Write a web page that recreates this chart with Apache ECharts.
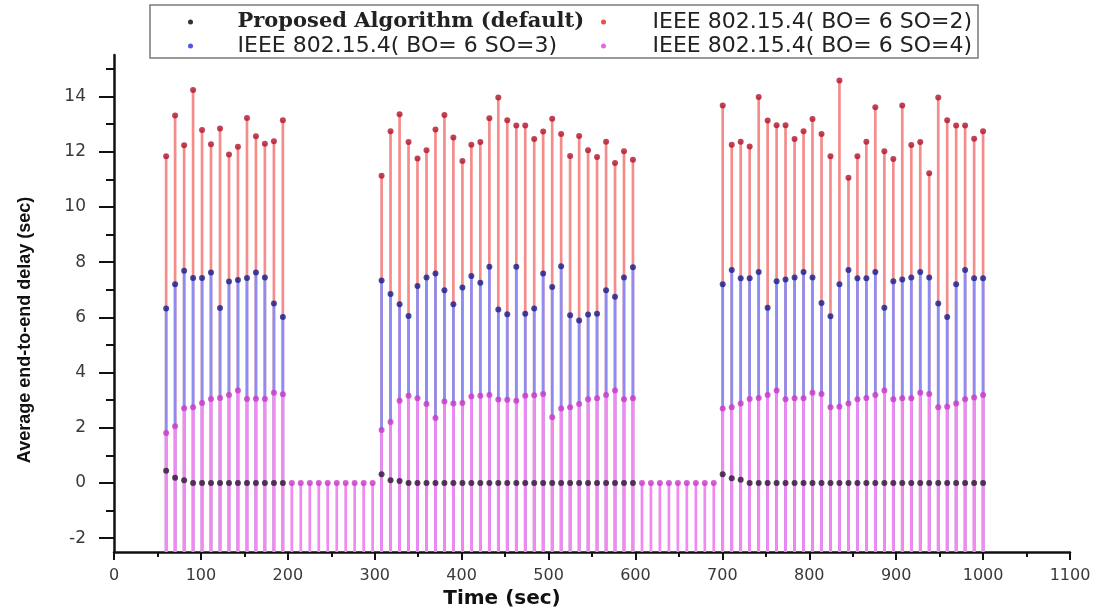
<!DOCTYPE html>
<html>
<head>
<meta charset="utf-8">
<script src="https://cdn.jsdelivr.net/npm/echarts@6/dist/echarts.min.js"></script>
<style>
html,body{margin:0;padding:0;background:#fff;}
#chart{width:1099px;height:615px;}
</style>
</head>
<body>
<div id="chart"></div>
<script>
// Time (sec) of each sample
const timeValues = [
  60.0, 70.3, 80.7, 91.0, 101.3, 111.6, 122.0, 132.3, 142.6, 153.0, 163.3, 173.6, 184.0, 194.3,
  204.6, 214.9, 225.3, 235.6, 245.9, 256.3, 266.6, 276.9, 287.3, 297.6,
  307.9, 318.2, 328.6, 338.9, 349.2, 359.6, 369.9, 380.2, 390.5, 400.9, 411.2, 421.5, 431.9, 442.2,
  452.5, 462.9, 473.2, 483.5, 493.8, 504.2, 514.5, 524.8, 535.2, 545.5, 555.8, 566.2, 576.5, 586.8, 597.1,
  607.5, 617.8, 628.1, 638.5, 648.8, 659.1, 669.5, 679.8, 690.1,
  700.4, 710.8, 721.1, 731.4, 741.8, 752.1, 762.4, 772.7, 783.1, 793.4, 803.7, 814.1, 824.4, 834.7,
  845.1, 855.4, 865.7, 876.0, 886.4, 896.7, 907.0, 917.4, 927.7, 938.0, 948.4, 958.7, 969.0, 979.3, 989.7, 1000.0
];

// Proposed Algorithm (default)
const proposedValues = [
  0.44, 0.19, 0.10, 0, 0, 0, 0, 0, 0, 0, 0, 0, 0, 0,
  null, null, null, null, null, null, null, null, null, null,
  0.32, 0.10, 0.07, 0, 0, 0, 0, 0, 0, 0, 0, 0, 0, 0, 0, 0, 0, 0, 0, 0, 0, 0, 0, 0, 0, 0, 0, 0, 0,
  null, null, null, null, null, null, null, null, null,
  0.32, 0.17, 0.12, 0, 0, 0, 0, 0, 0, 0, 0, 0, 0, 0, 0, 0, 0, 0, 0, 0, 0, 0, 0, 0, 0, 0, 0, 0, 0, 0, 0, 0
];

// IEEE 802.15.4( BO= 6 SO=2)
const so2Values = [
  11.83, 13.31, 12.23, 14.23, 12.78, 12.27, 12.84, 11.90, 12.18, 13.22, 12.56, 12.29, 12.38, 13.14,
  null, null, null, null, null, null, null, null, null, null,
  11.13, 12.74, 13.35, 12.35, 11.75, 12.05, 12.80, 13.33, 12.51, 11.66, 12.25, 12.35, 13.21, 13.96, 13.14,
  12.95, 12.95, 12.46, 12.73, 13.19, 12.64, 11.84, 12.57, 12.05, 11.81, 12.36, 11.59, 12.01, 11.71,
  null, null, null, null, null, null, null, null, null,
  13.67, 12.25, 12.36, 12.19, 13.98, 13.13, 12.96, 12.96, 12.46, 12.74, 13.18, 12.64, 11.83, 14.58, 11.05,
  11.83, 12.36, 13.61, 12.01, 11.73, 13.67, 12.24, 12.35, 11.22, 13.96, 13.14, 12.95, 12.95, 12.47, 12.74
];

// IEEE 802.15.4( BO= 6 SO=3)
const so3Values = [
  6.32, 7.20, 7.69, 7.42, 7.42, 7.62, 6.34, 7.30, 7.35, 7.42, 7.62, 7.44, 6.50, 6.01,
  null, null, null, null, null, null, null, null, null, null,
  7.33, 6.84, 6.47, 6.05, 7.13, 7.44, 7.59, 6.98, 6.47, 7.08, 7.50, 7.25, 7.83, 6.28, 6.11,
  7.83, 6.13, 6.32, 7.59, 7.10, 7.85, 6.07, 5.88, 6.10, 6.13, 6.98, 6.74, 7.44, 7.81,
  null, null, null, null, null, null, null, null, null,
  7.20, 7.71, 7.41, 7.41, 7.64, 6.35, 7.31, 7.37, 7.44, 7.64, 7.44, 6.52, 6.04, 7.20, 7.71,
  7.41, 7.41, 7.64, 6.35, 7.31, 7.37, 7.44, 7.64, 7.44, 6.50, 6.01, 7.20, 7.71, 7.41, 7.41
];

// IEEE 802.15.4( BO= 6 SO=4)
const so4Values = [
  1.81, 2.05, 2.71, 2.74, 2.90, 3.04, 3.08, 3.19, 3.35, 3.04, 3.05, 3.04, 3.27, 3.21,
  0, 0, 0, 0, 0, 0, 0, 0, 0, 0,
  1.92, 2.21, 2.98, 3.16, 3.07, 2.86, 2.35, 2.95, 2.88, 2.90, 3.13, 3.16, 3.19, 3.02, 3.01,
  2.98, 3.16, 3.18, 3.22, 2.38, 2.70, 2.74, 2.86, 3.03, 3.07, 3.19, 3.35, 3.03, 3.07,
  0, 0, 0, 0, 0, 0, 0, 0, 0,
  2.70, 2.74, 2.88, 3.04, 3.08, 3.19, 3.35, 3.03, 3.07, 3.07, 3.27, 3.22, 2.74, 2.76, 2.88,
  3.03, 3.08, 3.19, 3.35, 3.03, 3.07, 3.07, 3.27, 3.22, 2.74, 2.76, 2.88, 3.03, 3.10, 3.19
];

const yMajorTicks = [-2, 0, 2, 4, 6, 8, 10, 12, 14];
const yMinorTicks = [-1, 1, 3, 5, 7, 9, 11, 13, 15];

const NAME_P = 'Proposed Algorithm (default)';
const NAME_2 = 'IEEE 802.15.4( BO= 6 SO=2)';
const NAME_3 = 'IEEE 802.15.4( BO= 6 SO=3)';
const NAME_4 = 'IEEE 802.15.4( BO= 6 SO=4)';

const Y_MIN = -2.5, Y_MAX = 15.5;

function pairs(vals) {
  const out = [];
  for (let i = 0; i < timeValues.length; i++) {
    if (vals[i] !== null && vals[i] !== undefined) out.push([timeValues[i], vals[i]]);
  }
  return out;
}

function dropLines(name, vals, color) {
  return {
    name: name,
    type: 'custom',
    z: 2,
    silent: true,
    data: pairs(vals),
    renderItem: function (params, api) {
      const x = api.value(0), y = api.value(1);
      const top = api.coord([x, y]);
      const bot = api.coord([x, Y_MIN]);
      return {
        type: 'line',
        shape: { x1: top[0], y1: bot[1], x2: top[0], y2: top[1] },
        style: { stroke: color, lineWidth: 2.7 }
      };
    }
  };
}

function dots(name, vals, color) {
  return {
    name: name,
    type: 'scatter',
    z: 3,
    symbol: 'circle',
    symbolSize: 6,
    itemStyle: { color: color },
    data: pairs(vals)
  };
}

const chart = echarts.init(document.getElementById('chart'), null, { renderer: 'canvas' });

const legendText = { fontFamily: 'DejaVu Sans', fontSize: 22, color: '#222', lineHeight: 22 };

chart.setOption({
  animation: false,
  backgroundColor: '#fff',
  grid: { left: 114, right: 29, top: 55, bottom: 63, containLabel: false },
  legend: [
    {
      left: 183, top: 6, orient: 'vertical', icon: 'circle',
      itemWidth: 84, itemHeight: 5, itemGap: 2, selectedMode: false,
      textStyle: legendText,
      data: [
        { name: NAME_P, itemStyle: { color: '#000' },
          textStyle: { fontFamily: 'DejaVu Serif', fontWeight: 'bold', fontSize: 21, color: '#222' } },
        { name: NAME_3, itemStyle: { color: '#2a2ad0' } }
      ]
    },
    {
      left: 596, top: 6, orient: 'vertical', icon: 'circle',
      itemWidth: 88, itemHeight: 5, itemGap: 2, selectedMode: false,
      textStyle: legendText,
      data: [
        { name: NAME_2, itemStyle: { color: '#e82020' } },
        { name: NAME_4, itemStyle: { color: '#e040e0' } }
      ]
    }
  ],
  graphic: [
    {
      type: 'rect', silent: true, z: 100,
      shape: { x: 150, y: 5, width: 828, height: 53 },
      style: { fill: 'none', stroke: '#7a7a7a', lineWidth: 1.5 }
    }
  ],
  xAxis: {
    type: 'value', min: 0, max: 1100, interval: 100,
    name: 'Time (sec)', nameLocation: 'middle', nameGap: 36,
    nameTextStyle: { fontFamily: 'DejaVu Sans', fontWeight: 'bold', fontSize: 20, color: '#111', padding: [0, 180, 0, 0] },
    axisLine: { show: true, onZero: false, lineStyle: { color: '#111', width: 2.5 } },
    axisTick: { show: true, inside: false, length: 8, lineStyle: { color: '#111', width: 2 } },
    minorTick: { show: true, splitNumber: 2, length: 5, lineStyle: { color: '#111', width: 2 } },
    axisLabel: { fontFamily: 'DejaVu Sans', fontSize: 16, color: '#3a3a3a', margin: 16,
      formatter: function (v) { return String(v); } },
    splitLine: { show: false },
    minorSplitLine: { show: false }
  },
  yAxis: [
    {
      type: 'value', min: Y_MIN, max: Y_MAX, position: 'left',
      name: 'Average end-to-end delay (sec)', nameLocation: 'middle', nameGap: 80,
      nameTextStyle: { fontFamily: 'Liberation Sans', fontWeight: 'bold', fontSize: 18, color: '#111', padding: [0, 53, 0, 0] },
      axisLine: { show: true, onZero: false, lineStyle: { color: '#111', width: 2.5 } },
      axisTick: { show: true, inside: false, length: 15, customValues: yMajorTicks, lineStyle: { color: '#111', width: 2 } },
      axisLabel: { customValues: yMajorTicks, fontFamily: 'DejaVu Sans', fontSize: 17, color: '#3a3a3a', margin: 28 },
      splitLine: { show: false }
    },
    {
      type: 'value', min: Y_MIN, max: Y_MAX, position: 'left', offset: 0,
      axisLine: { show: false, onZero: false },
      axisTick: { show: true, inside: false, length: 8, customValues: yMinorTicks, lineStyle: { color: '#111', width: 2 } },
      axisLabel: { show: false },
      splitLine: { show: false }
    }
  ],
  series: [
    dots(NAME_P, proposedValues, '#2a1530'),
    dots(NAME_2, so2Values, '#b0142a'),
    dots(NAME_3, so3Values, '#1c1c8a'),
    dots(NAME_4, so4Values, '#c838c8'),
    dropLines(NAME_2, so2Values, '#f58c8c'),
    dropLines(NAME_3, so3Values, '#8c8cf2'),
    dropLines(NAME_4, so4Values, '#f288f2')
  ]
});
</script>
</body>
</html>
